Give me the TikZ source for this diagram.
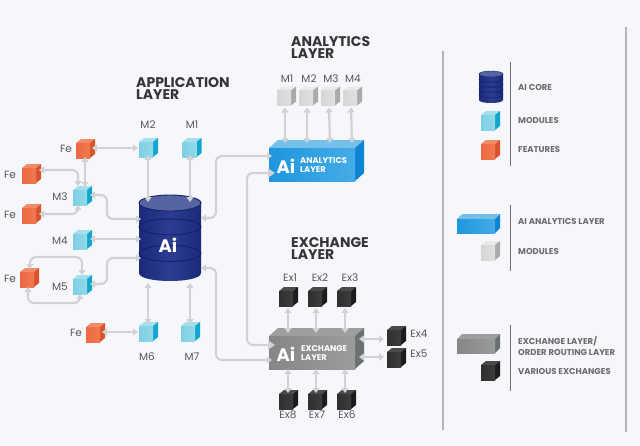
\documentclass[tikz,border=0pt]{standalone}
\usepackage{fontspec}
\setmainfont{Poppins}
\usetikzlibrary{arrows.meta,calc}
\definecolor{paper}{HTML}{F5F7FA}
\definecolor{linkgrey}{HTML}{D0D2D4}
\definecolor{rulegrey}{HTML}{B4B6B8}
\definecolor{labelgrey}{HTML}{55575A}
\definecolor{titledark}{HTML}{333537}
\definecolor{legendgrey}{HTML}{6A6C70}
\definecolor{modF}{HTML}{7DCFE5}\definecolor{modL}{HTML}{93D9EA}\definecolor{modT}{HTML}{A6DFEC}\definecolor{modS}{HTML}{12A6CF}
\definecolor{feaF}{HTML}{EC6A42}\definecolor{feaL}{HTML}{F0794F}\definecolor{feaT}{HTML}{F28C68}\definecolor{feaS}{HTML}{D9532C}
\definecolor{gryF}{HTML}{D5D6D6}\definecolor{gryL}{HTML}{DFE0E0}\definecolor{gryT}{HTML}{E9E9E9}\definecolor{gryS}{HTML}{A9ABAB}
\definecolor{drkF}{HTML}{2F2F30}\definecolor{drkL}{HTML}{3D3D3E}\definecolor{drkT}{HTML}{4A4A4B}\definecolor{drkS}{HTML}{1C1C1D}
\definecolor{anaF}{HTML}{1F96DE}\definecolor{anaL}{HTML}{45ACE6}\definecolor{anaT}{HTML}{74C0EA}\definecolor{anaS}{HTML}{0C84D4}
\definecolor{excF}{HTML}{858786}\definecolor{excL}{HTML}{9A9C9B}\definecolor{excT}{HTML}{9D9F9E}\definecolor{excS}{HTML}{6B7170}
\definecolor{coreDark}{HTML}{1B2A78}\definecolor{coreMid}{HTML}{2C3C90}\definecolor{coreTop}{HTML}{5664A2}\definecolor{coreLine}{HTML}{14206A}
\tikzset{
  link/.style={draw=linkgrey,line width=2.2pt,rounded corners=6pt,
    {Triangle[width=7pt,length=5pt]}-{Triangle[width=7pt,length=5pt]}},
  biglink/.style={link,{Triangle[width=9pt,length=7pt]}-{Triangle[width=9pt,length=7pt]}},
  lbl/.style={text=labelgrey,font=\fontsize{10.5}{12}\selectfont,inner sep=0pt},
  headline/.style={text=titledark,font=\fontsize{14}{12.5}\selectfont\bfseries,align=left,anchor=north west,inner sep=0pt},
  legend/.style={text=legendgrey,font=\fontsize{8.5}{10.5}\selectfont\bfseries,align=left,anchor=west,inner sep=0pt},
  bigai/.style={text=white,font=\fontsize{18}{18}\selectfont\bfseries,inner sep=0pt},
  layertext/.style={text=white,font=\fontsize{8.3}{9}\selectfont\bfseries,align=left,anchor=west,inner sep=0pt},
  rulev/.style={draw=rulegrey,line width=1.1pt},
  rulelegend/.style={draw=labelgrey!85,line width=0.8pt},
  anchorbox/.style={inner sep=0pt,outer sep=0pt,minimum width=#1},
}
% \block{name}{left}{top}{width}{height}{depth x}{depth y}{palette}
\newcommand{\block}[8]{%
  \fill[#8T] (#2,#3+#7) -- (#2+#6,#3) -- (#2+#4,#3) -- (#2+#4-#6,#3+#7) -- cycle;
  \fill[#8S] (#2+#4-#6,#3+#7) -- (#2+#4,#3) -- (#2+#4,#3+#5-#7) -- (#2+#4-#6,#3+#5) -- cycle;
  \path[left color=#8F,right color=#8L] (#2,#3+#7) rectangle (#2+#4-#6,#3+#5);
  \node[anchorbox=#4pt,minimum height=#5pt] (#1) at ({#2+#4/2},{#3+#5/2}) {};
}
\newcommand{\cube}[4]{\block{#1}{#2}{#3}{19}{19}{5}{4}{#4}}
% \core{name}{left}{top}{width}{height}{ellipse ry}{band positions}{band width}: banded drum
\newcommand{\core}[8]{%
  \path[left color=coreDark,right color=coreDark,middle color=coreMid]
    (#2,#3+#6) -- (#2,#3+#5-#6)
    .. controls (#2,#3+#5+#6/3) and (#2+#4,#3+#5+#6/3) .. (#2+#4,#3+#5-#6)
    -- (#2+#4,#3+#6) -- cycle;
  \foreach \f in {#7}{
    \draw[coreLine,line width=#8] ({#2+#4/2},{#3+#6+\f*(#5-2*#6)}) ellipse[x radius=#4/2,y radius=#6];
  }
  \draw[coreLine,line width=#8,fill=coreTop] ({#2+#4/2},{#3+#6}) ellipse[x radius=#4/2,y radius=#6];
  \node[anchorbox=#4pt,minimum height=#5pt] (#1) at ({#2+#4/2},{#3+#5/2}) {};
}
\begin{document}
\begin{tikzpicture}[x=1pt,y=-1pt]
\useasboundingbox (0,0) rectangle (640,445);
\fill[paper] (0,0) rectangle (640,445);

% panel rules
\coordinate (panelAt) at (443,51);
\coordinate (panelAb) at (443,430);
\coordinate (panelBt) at (626,27);
\coordinate (panelBb) at (626,432);
\draw[rulev] (panelAt) -- (panelAb);
\draw[rulev] (panelBt) -- (panelBb);

% headings
\node[headline] (tApp) at (136,77) {APPLICATION\\LAYER};
\node[headline] (tAna) at (291,36) {ANALYTICS\\LAYER};
\node[headline] (tExc) at (291,237) {EXCHANGE\\LAYER};

% AI core
\core{cyl}{139}{195}{62}{86}{8}{0.34,0.72}{0.9pt}
\node[bigai] (cylai) at (168,245) {Ai};

% application modules and features
\cube{m2}{139}{138}{mod}
\cube{m1}{182.5}{138}{mod}
\cube{feA}{76}{139}{fea}
\cube{feB}{22}{164}{fea}
\cube{m3}{73}{186}{mod}
\cube{feC}{22}{204}{fea}
\cube{m4}{73}{230}{mod}
\cube{feD}{20}{268}{fea}
\cube{m5}{73}{275}{mod}
\cube{feE}{86}{323}{fea}
\cube{m6}{139}{322}{mod}
\cube{m7}{181}{322}{mod}

\node[lbl] (lm2) at (148,125) {M2};
\node[lbl] (lm1) at (192,125) {M1};
\node[lbl] (lfeA) at (66,149) {Fe};
\node[lbl] (lfeB) at (10,175) {Fe};
\node[lbl] (lm3) at (60,197) {M3};
\node[lbl] (lfeC) at (10,215) {Fe};
\node[lbl] (lm4) at (60,241) {M4};
\node[lbl] (lfeD) at (10,279) {Fe};
\node[lbl] (lm5) at (60,287) {M5};
\node[lbl] (lfeE) at (76,333) {Fe};
\node[lbl] (lm6) at (147,357) {M6};
\node[lbl] (lm7) at (192,357) {M7};

% analytics layer
\block{ana}{269}{140}{95}{41}{9}{8}{ana}
\node[bigai] (anaai) at (286,166) {Ai};
\node[layertext] (anatx) at (300,165.5) {ANALYTICS\\LAYER};
\cube{a1}{277}{86.5}{gry}
\cube{a2}{299}{86.5}{gry}
\cube{a3}{321}{86.5}{gry}
\cube{a4}{343}{86.5}{gry}
\node[lbl] (la1) at (287,79) {M1};
\node[lbl] (la2) at (309,79) {M2};
\node[lbl] (la3) at (331,79) {M3};
\node[lbl] (la4) at (353,79) {M4};

% exchange layer
\block{exc}{269}{328}{95}{41}{9}{8}{exc}
\node[bigai] (excai) at (286,354) {Ai};
\node[layertext] (exctx) at (301,353.5) {EXCHANGE\\LAYER};
\cube{e1}{279}{287}{drk}
\cube{e2}{308}{287}{drk}
\cube{e3}{337}{287}{drk}
\cube{e4}{387}{326}{drk}
\cube{e5}{387}{348}{drk}
\cube{e8}{279}{390}{drk}
\cube{e7}{308}{390}{drk}
\cube{e6}{337}{390}{drk}
\node[lbl] (le1) at (290,278) {Ex1};
\node[lbl] (le2) at (320,278) {Ex2};
\node[lbl] (le3) at (350,278) {Ex3};
\node[lbl] (le4) at (419,334) {Ex4};
\node[lbl] (le5) at (419,354) {Ex5};
\node[lbl] (le8) at (288,415) {Ex8};
\node[lbl] (le7) at (317,415) {Ex7};
\node[lbl] (le6) at (347,415) {Ex6};

% connectors around the core
\draw[link] ($(feA.east)+(-3,-0.5)$) -- ($(m2.west)+(-1,0.5)$);
\draw[link] ($(m2.south)+(-0.5,-2)$) -- ($(cyl.north)+(-22,7)$);
\draw[link] ($(m1.south)+(-2,-2)$) -- ($(cyl.north)+(20,7)$);
\draw[link] ($(feA.south)+(-0.5,-1)$) -- ($(m3.north)+(2.5,1)$);
\draw[link] ($(feB.east)+(-2,-3.5)$) -| ($(m3.north)+(-4.5,0)$);
\draw[link] ($(feC.east)+(-2,0.5)$) -| ($(m3.south)+(-4.5,0)$);
\draw[link] ($(m3.east)+(-2,-0.5)$) -- ($(m3.east)+(15,-0.5)$) -- ($(cyl.west)+(-32,-19)$) -- ($(cyl.west)+(2,-19)$);
\draw[link] ($(m4.east)+(-2,-0.5)$) -- ($(cyl.west)+(2,1)$);
\draw[link] ($(m5.east)+(-2,-0.5)$) -- ($(m5.east)+(15,-0.5)$) -- ($(cyl.west)+(-32,20)$) -- ($(cyl.west)+(2,20)$);
\draw[link] ($(feD.north)+(0.5,1)$) -- ($(feD.north)+(0.5,-11)$) -- ($(m5.north)+(-0.5,-18)$) -- ($(m5.north)+(-0.5,0)$);
\draw[link] ($(feD.south)+(-1.5,0)$) -- ($(feD.south)+(-1.5,16)$) -- ($(m5.south)+(-2.5,9)$) -- ($(m5.south)+(-2.5,0)$);
\draw[link] ($(feE.east)+(-3,-0.5)$) -- ($(m6.west)+(-1,0.5)$);
\draw[link] ($(cyl.south)+(-22,2)$) -- ($(m6.north)+(-0.5,2)$);
\draw[link] ($(cyl.south)+(20,2)$) -- ($(m7.north)+(-0.5,2)$);

% connectors into the two layers
\draw[link] ($(cyl.east)+(0,-20)$) -- ($(cyl.east)+(15,-20)$) -- ($(ana.west)+(-53,-4.5)$) -- ($(ana.west)+(3,-4.5)$);
\draw[biglink] ($(ana.west)+(6,12.5)$) -- ($(ana.west)+(-22,12.5)$) -- ($(exc.west)+(-22,-3.5)$) -- ($(exc.west)+(6,-3.5)$);
\draw[link] ($(cyl.east)+(0,30)$) -- ($(cyl.east)+(15,30)$) -- ($(exc.west)+(-53,11.5)$) -- ($(exc.west)+(3,11.5)$);

% analytics module links
\draw[link] ($(a1.south)+(-1.5,2)$) -- ($(ana.north)+(-31.5,3)$);
\draw[link] ($(a2.south)+(-1.5,2)$) -- ($(ana.north)+(-9.5,3)$);
\draw[link] ($(a3.south)+(-1.5,2)$) -- ($(ana.north)+(13.5,3)$);
\draw[link] ($(a4.south)+(-1.5,2)$) -- ($(ana.north)+(35.5,3)$);

% exchange links
\draw[link] ($(e1.south)+(-0.5,2)$) -- ($(exc.north)+(-28.5,5)$);
\draw[link] ($(e2.south)+(-1.5,2)$) -- ($(exc.north)+(-0.5,5)$);
\draw[link] ($(e3.south)+(-1.5,2)$) -- ($(exc.north)+(28.5,5)$);
\draw[link] ($(exc.south)+(-28.5,0)$) -- ($(e8.north)+(-0.5,3)$);
\draw[link] ($(exc.south)+(-0.5,0)$) -- ($(e7.north)+(-1.5,3)$);
\draw[link] ($(exc.south)+(28.5,0)$) -- ($(e6.north)+(-1.5,3)$);
\draw[link] ($(exc.east)+(-5,-9.5)$) -- ($(e4.west)+(-3,3.5)$);
\draw[link] ($(exc.east)+(-5,8.5)$) -- ($(e5.west)+(-3,-0.5)$);

% legend
\core{lgCore}{479}{71}{24}{32}{3}{0.2,0.4,0.6,0.8}{0.4pt}
\cube{lgMod}{481}{111}{mod}
\cube{lgFea}{481}{140}{fea}
\block{lgAna}{457}{214}{43}{19}{5}{5}{ana}
\cube{lgGry}{481}{241}{gry}
\block{lgExc}{457}{334}{43}{19}{5}{5}{exc}
\cube{lgDrk}{481}{361}{drk}
\coordinate (sepAt) at (510,62);
\coordinate (sepAb) at (510,166);
\coordinate (sepBt) at (510,205);
\coordinate (sepBb) at (510,271);
\coordinate (sepCt) at (510,325);
\coordinate (sepCb) at (510,391);
\draw[rulelegend] (sepAt) -- (sepAb);
\draw[rulelegend] (sepBt) -- (sepBb);
\draw[rulelegend] (sepCt) -- (sepCb);
\node[legend] (txCore) at (518,87) {AI CORE};
\node[legend] (txMod) at (518,120.5) {MODULES};
\node[legend] (txFea) at (518,149) {FEATURES};
\node[legend] (txAna) at (518,221) {AI ANALYTICS LAYER};
\node[legend] (txGry) at (518,251) {MODULES};
\node[legend] (txExc) at (518,346) {EXCHANGE LAYER/\\ORDER ROUTING LAYER};
\node[legend] (txDrk) at (518,371) {VARIOUS EXCHANGES};
\end{tikzpicture}
\end{document}
